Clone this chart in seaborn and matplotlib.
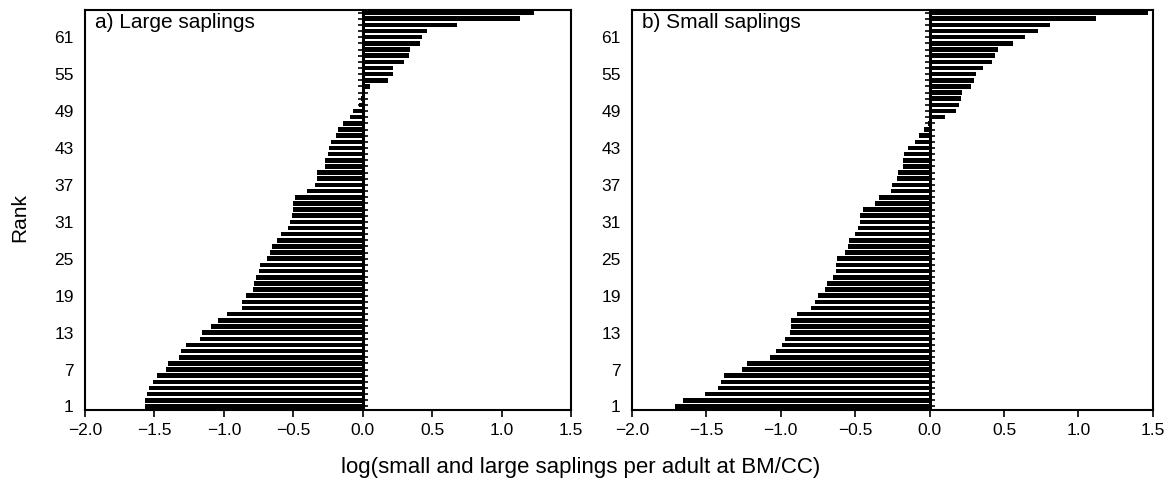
import matplotlib
matplotlib.use('Agg')
import numpy as np
import pandas as pd
import seaborn as sns
from matplotlib import pyplot as plt

# ranks of species, 1 (lowest) to 65 (highest)
ranks = list(range(1, 66))

# log(saplings per adult at BM/CC), rank 1 first
large_saplings = [
    -1.57, -1.57, -1.55, -1.54, -1.51, -1.48, -1.42, -1.40, -1.32, -1.31,
    -1.27, -1.17, -1.16, -1.09, -1.04, -0.98, -0.87, -0.87, -0.84, -0.79,
    -0.78, -0.77, -0.75, -0.74, -0.69, -0.67, -0.65, -0.62, -0.59, -0.54,
    -0.52, -0.51, -0.50, -0.50, -0.49, -0.40, -0.34, -0.33, -0.33, -0.27,
    -0.27, -0.25, -0.24, -0.23, -0.19, -0.18, -0.14, -0.09, -0.07, -0.03,
    -0.01, 0.01, 0.05, 0.18, 0.22, 0.22, 0.30, 0.33, 0.34, 0.41,
    0.43, 0.46, 0.68, 1.13, 1.23,
]
small_saplings = [
    -1.71, -1.66, -1.51, -1.42, -1.40, -1.38, -1.26, -1.23, -1.07, -1.03,
    -0.99, -0.97, -0.94, -0.93, -0.93, -0.89, -0.80, -0.77, -0.75, -0.70,
    -0.69, -0.65, -0.63, -0.63, -0.62, -0.57, -0.55, -0.54, -0.50, -0.48,
    -0.47, -0.47, -0.45, -0.37, -0.34, -0.26, -0.25, -0.22, -0.21, -0.18,
    -0.18, -0.175, -0.145, -0.10, -0.07, -0.04, -0.01, 0.10, 0.18, 0.20,
    0.21, 0.22, 0.28, 0.30, 0.31, 0.36, 0.42, 0.44, 0.46, 0.56,
    0.64, 0.73, 0.81, 1.12, 1.47,
]
panel_titles = ['a) Large saplings', 'b) Small saplings']
rank_ticks = [1, 7, 13, 19, 25, 31, 37, 43, 49, 55, 61]
x_ticks = [-2.0, -1.5, -1.0, -0.5, 0.0, 0.5, 1.0, 1.5]

sns.set_style('ticks')
plt.rcParams['font.family'] = ['Liberation Sans', 'DejaVu Sans']
plt.rcParams['text.color'] = 'black'
plt.rcParams['xtick.color'] = 'black'
plt.rcParams['ytick.color'] = 'black'

fig = plt.figure(figsize=(11.72, 4.82), dpi=100)
axes = [fig.add_axes([0.0725, 0.149, 0.4147, 0.830]),
        fig.add_axes([0.5392, 0.149, 0.4445, 0.830])]

for ax, vals, title in zip(axes, [large_saplings, small_saplings], panel_titles):
    df = pd.DataFrame({'rank': ranks, 'value': vals})
    sns.barplot(data=df, x='value', y='rank', orient='h', native_scale=True,
                color='black', width=0.74, linewidth=0, errorbar=None, ax=ax)
    # base line at zero with a small tick at every rank
    ax.axvline(0, color='black', lw=2.2, zorder=3)
    ax.scatter(np.zeros(len(ranks)), ranks, marker='_', s=60,
               linewidths=1.2, color='black', zorder=3)
    ax.set_xlim(-2.0, 1.5)
    ax.set_ylim(0.4, 65.4)
    ax.set_xticks(x_ticks)
    ax.set_xticklabels([f'{t:.1f}'.replace('-', '\u2212') for t in x_ticks])
    ax.set_yticks(rank_ticks)
    ax.set_xlabel('')
    ax.set_ylabel('')
    ax.tick_params(axis='y', length=0, pad=8, labelsize=12.5)
    ax.tick_params(axis='x', length=5, width=1.2, direction='out', pad=4,
                   labelsize=12.5)
    for sp in ax.spines.values():
        sp.set_visible(True)
        sp.set_linewidth(1.5)
        sp.set_color('black')
    ax.text(0.02, 0.968, title, transform=ax.transAxes, fontsize=15,
            ha='left', va='center')

fig.text(0.017, 0.548, 'Rank', rotation=90, ha='center', va='center',
         fontsize=15)
fig.text(0.495, 0.031, 'log(small and large saplings per adult at BM/CC)',
         ha='center', va='center', fontsize=16)

fig.savefig('out.png', dpi=100)
